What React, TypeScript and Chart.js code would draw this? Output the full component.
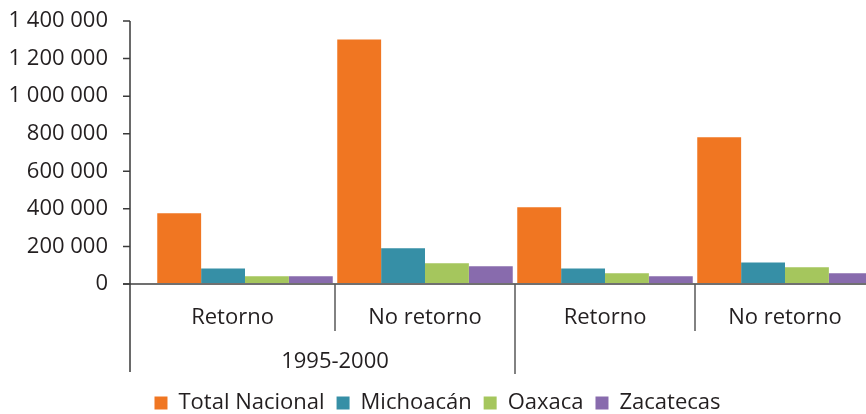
import React, { useEffect, useRef } from "react";
import { Chart, registerables } from "chart.js";

Chart.register(...registerables);

const categories = ["Retorno", "No retorno", "Retorno", "No retorno"];
const periods = ["1995-2000", ""];
const seriesNames = ["Total Nacional", "Michoacán", "Oaxaca", "Zacatecas"];
const totalNacional = [377000, 1302000, 408000, 781000];
const michoacan = [83000, 190000, 83000, 115000];
const oaxaca = [41000, 110000, 57000, 89000];
const zacatecas = [41000, 94000, 41000, 57000];
const seriesColors = ["#F07622", "#368FA6", "#A5C65D", "#886BAD"];
const yMin = 0;
const yMax = 1400000;
const yStep = 200000;

const FONT = "'Open Sans', 'Noto Sans', sans-serif";
const TEXT = "#231f20";
const FS = 22;

const fmt = (v: number) => String(v).replace(/\B(?=(\d{3})+(?!\d))/g, " ");

const axisPlugin = {
  id: "excelAxes",
  afterDatasetsDraw(chart: any) {
    const { ctx, chartArea, scales } = chart;
    const x = scales.x;
    const y = scales.y;
    const axisX = chartArea.left - 25;
    const y0 = y.getPixelForValue(0);
    const catW = x.getPixelForValue(1) - x.getPixelForValue(0);
    ctx.save();
    // baseline
    ctx.strokeStyle = "#707070";
    ctx.lineWidth = 2;
    ctx.beginPath();
    ctx.moveTo(axisX - 7, y0);
    ctx.lineTo(chartArea.right + 10, y0);
    ctx.stroke();
    // y axis line
    ctx.strokeStyle = "#3a3a3a";
    ctx.lineWidth = 1.5;
    ctx.beginPath();
    ctx.moveTo(axisX, y.getPixelForValue(y.max));
    ctx.lineTo(axisX, y0 + 88);
    y.ticks.forEach((t: any) => {
      const py = y.getPixelForValue(t.value);
      ctx.moveTo(axisX - 7, py);
      ctx.lineTo(axisX, py);
    });
    ctx.stroke();
    // category dividers
    ctx.strokeStyle = "#5a5a5a";
    ctx.lineWidth = 1.5;
    ctx.beginPath();
    for (let i = 0; i < categories.length - 1; i++) {
      const bx = x.getPixelForValue(i) + catW / 2;
      const long = i % 2 === 1;
      ctx.moveTo(bx, y0);
      ctx.lineTo(bx, long ? y0 + 90 : y0 + 47);
    }
    ctx.stroke();
    // labels
    ctx.fillStyle = TEXT;
    ctx.font = `${FS}px ${FONT}`;
    ctx.textAlign = "center";
    ctx.textBaseline = "middle";
    categories.forEach((c, i) => {
      const left = i === 0 ? axisX : x.getPixelForValue(i) - catW / 2;
      const right = x.getPixelForValue(i) + catW / 2;
      ctx.fillText(c, (left + right) / 2, y0 + 34);
    });
    periods.forEach((p, g) => {
      if (!p) return;
      const cx = (x.getPixelForValue(2 * g) + x.getPixelForValue(2 * g + 1)) / 2;
      ctx.fillText(p, cx, y0 + 78);
    });
    ctx.restore();
  },
};

export default function App() {
  const ref = useRef<HTMLCanvasElement>(null);
  useEffect(() => {
    if (!ref.current) return;
    const values = [totalNacional, michoacan, oaxaca, zacatecas];
    const chart = new Chart(ref.current, {
      type: "bar",
      data: {
        labels: categories,
        datasets: seriesNames.map((name, i) => ({
          label: name,
          data: values[i],
          backgroundColor: seriesColors[i],
          borderWidth: 0,
          barPercentage: 1,
          categoryPercentage: 0.975,
        })),
      },
      options: {
        animation: false,
        responsive: false,
        layout: { padding: { top: 21, left: 0, right: 17, bottom: 0 } },
        plugins: {
          tooltip: { enabled: false },
          legend: {
            position: "bottom",
            labels: {
              boxWidth: 13,
              boxHeight: 13,
              padding: 12,
              color: TEXT,
              font: { family: FONT, size: FS },
            },
          },
        },
        scales: {
          x: {
            grid: { display: false },
            border: { display: false },
            ticks: { display: false },
            afterFit: (s: any) => {
              s.height = 96;
            },
          },
          y: {
            min: yMin,
            max: yMax,
            grid: {
              display: true,
              drawOnChartArea: false,
              drawTicks: true,
              tickLength: 40,
              color: "rgba(0,0,0,0)",
            },
            border: { display: false },
            ticks: {
              stepSize: yStep,
              padding: 7,
              color: TEXT,
              font: { family: FONT, size: FS },
              callback: (v: any) => fmt(Number(v)),
            },
            afterFit: (s: any) => {
              s.width = 155;
            },
          },
        },
      },
      plugins: [axisPlugin],
    });
    return () => chart.destroy();
  }, []);
  return (
    <div
      style={{
        position: "fixed",
        left: 0,
        top: 0,
        width: 866,
        height: 414,
        overflow: "hidden",
        background: "#fff",
      }}
    >
      <canvas ref={ref} width={892} height={424} style={{ display: "block", width: 892, height: 424 }} />
    </div>
  );
}
